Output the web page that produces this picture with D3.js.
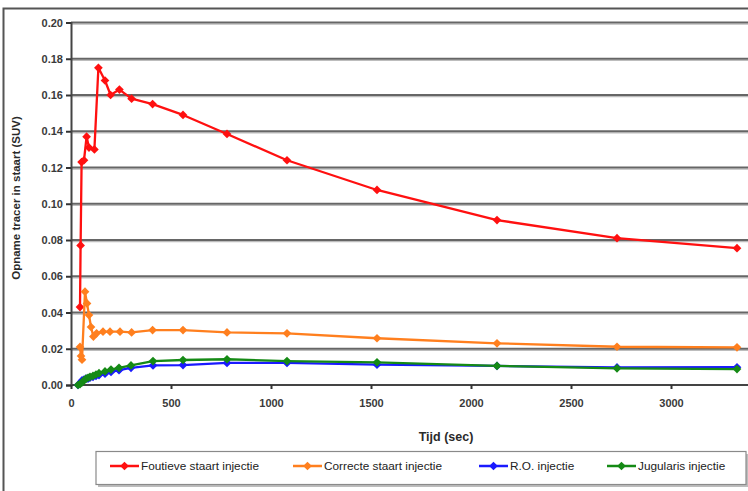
<!DOCTYPE html>
<html><head><meta charset="utf-8">
<script src="https://cdn.jsdelivr.net/npm/d3@7"></script>
<style>
html,body{margin:0;padding:0;background:#fff;overflow:hidden}
svg{display:block}
text{font-family:"Liberation Sans",Arial,sans-serif}
</style></head>
<body>
<svg id="c" width="748" height="491"></svg>
<script>
// ---- data ----
const seriesNames = ["Foutieve staart injectie","Correcte staart injectie","R.O. injectie","Jugularis injectie"];
const seriesColors = ["#ff1010","#ff7f1e","#1a1aff","#158a15"];

const foutieveTime  = [45,48,53,65,78,90,117,137,170,198,242,303,408,560,780,1080,1530,2130,2730,3330];
const foutieveValue = [0.043,0.077,0.123,0.124,0.137,0.131,0.130,0.175,0.168,0.160,0.163,0.158,0.155,0.149,0.1385,0.124,0.1076,0.091,0.081,0.0755];

const correcteTime  = [45,50,55,70,80,90,100,112,128,160,195,245,303,408,560,780,1080,1530,2130,2730,3330];
const correcteValue = [0.021,0.016,0.014,0.0515,0.045,0.0386,0.032,0.0267,0.0285,0.0294,0.0294,0.0294,0.029,0.0303,0.0303,0.029,0.0285,0.0258,0.023,0.0211,0.0208];

const roTime  = [35,45,55,65,75,85,95,110,125,140,170,200,240,300,410,560,780,1080,1530,2130,2730,3330];
const roValue = [0,0.001,0.0025,0.003,0.0035,0.0035,0.004,0.0045,0.005,0.0055,0.0062,0.0072,0.0082,0.0095,0.0108,0.011,0.0122,0.0122,0.0112,0.0105,0.0097,0.0098];

const jugTime  = [35,45,55,65,75,85,95,110,125,140,170,200,240,300,410,560,780,1080,1530,2130,2730,3330];
const jugValue = [0,0.0005,0.0015,0.0025,0.0035,0.004,0.0045,0.005,0.0058,0.0065,0.0075,0.0085,0.0095,0.0108,0.0132,0.0138,0.0142,0.0132,0.0125,0.0105,0.0092,0.0088];

const xTicks = [0,500,1000,1500,2000,2500,3000];
const yTicks = [0,0.02,0.04,0.06,0.08,0.10,0.12,0.14,0.16,0.18,0.20];

const xTitle = "Tijd (sec)";
const yTitle = "Opname tracer in staart (SUV)";

// ---- drawing ----
const svg = d3.select("#c");
const x = d3.scaleLinear().domain([0,3500]).range([71,771]);
const y = d3.scaleLinear().domain([0,0.2]).range([385,22.5]);

// outer frame
svg.append("path").attr("d","M3.5,491 V8.5 H748").attr("fill","none").attr("stroke","#555").attr("stroke-width",2);

// gridlines
const grid = svg.append("g");
yTicks.filter(d=>d>0).forEach(t=>{
  grid.append("line").attr("x1",71).attr("x2",748).attr("y1",y(t)+1.6).attr("y2",y(t)+1.6)
    .attr("stroke","#bdbdbd").attr("stroke-width",1.3);
  grid.append("line").attr("x1",71).attr("x2",748).attr("y1",y(t)).attr("y2",y(t))
    .attr("stroke","#666").attr("stroke-width",2);
});

// axes
const yAxis = d3.axisLeft(y).tickValues(yTicks).tickFormat(d3.format(".2f")).tickSize(5).tickPadding(3);
const xAxis = d3.axisBottom(x).tickValues(xTicks).tickFormat(d3.format("d")).tickSize(4).tickPadding(10);
const gy = svg.append("g").attr("transform","translate(71,0)").call(yAxis);
const gx = svg.append("g").attr("transform","translate(0,385)").call(xAxis);
[gx,gy].forEach(g=>{
  g.select(".domain").attr("stroke","#444").attr("stroke-width",2);
  g.selectAll(".tick line").attr("stroke","#333").attr("stroke-width",2);
  g.selectAll(".tick text").attr("fill","#3a3a3a").attr("font-size","11px").attr("font-weight","bold");
});
gx.select(".domain").attr("d","M71,0H748");

// titles
svg.append("text").attr("x",446).attr("y",441).attr("text-anchor","middle")
  .attr("font-size","12.5px").attr("font-weight","bold").attr("fill","#2a2a2a").text(xTitle);
svg.append("text").attr("transform","translate(20,198) rotate(-90)").attr("text-anchor","middle")
  .attr("font-size","11.5px").attr("font-weight","bold").attr("fill","#2a2a2a").text(yTitle);

// series
const series = [
  {t:foutieveTime, v:foutieveValue},
  {t:correcteTime, v:correcteValue},
  {t:roTime, v:roValue},
  {t:jugTime, v:jugValue}
];
const diamond = d3.symbol().type(d3.symbolSquare).size(38);
const line = d3.line().x(d=>x(d[0])).y(d=>y(d[1]));
const plot = svg.append("g");
series.forEach((s,i)=>{
  const pts = s.t.map((t,j)=>[t,s.v[j]]);
  plot.append("path").datum(pts).attr("d",line).attr("fill","none")
    .attr("stroke",seriesColors[i]).attr("stroke-width",2.3).attr("stroke-linejoin","round");
  plot.selectAll(null).data(pts).enter().append("path")
    .attr("d",diamond).attr("transform",d=>`translate(${x(d[0])},${y(d[1])}) rotate(45)`)
    .attr("fill",seriesColors[i]);
});

// legend
const lg = svg.append("g");
lg.append("rect").attr("x",98).attr("y",454).attr("width",652).attr("height",33).attr("fill","#bdbdbd");
lg.append("rect").attr("x",96).attr("y",451.5).attr("width",650).attr("height",33).attr("fill","#fff")
  .attr("stroke","#8a8a8a").attr("stroke-width",1.2);
const legX = [110,293,479,607];
seriesNames.forEach((n,i)=>{
  const lx = legX[i], ly = 466;
  lg.append("line").attr("x1",lx).attr("x2",lx+29).attr("y1",ly).attr("y2",ly)
    .attr("stroke",seriesColors[i]).attr("stroke-width",2.5);
  lg.append("path").attr("d",diamond).attr("transform",`translate(${lx+14.5},${ly}) rotate(45)`).attr("fill",seriesColors[i]);
  lg.append("text").attr("x",lx+31).attr("y",ly+4).attr("font-size","11.8px").attr("fill","#222").text(n);
});
</script>
</body></html>
